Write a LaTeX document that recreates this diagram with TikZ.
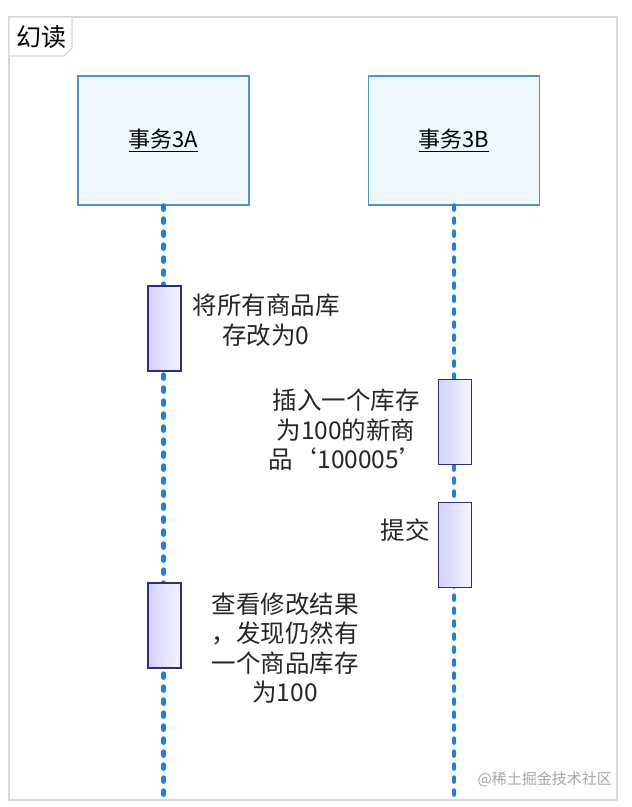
\documentclass[tikz,border=0pt]{standalone}
\usepackage{fontspec}
\setmainfont{Noto Sans CJK SC}
\usetikzlibrary{positioning}
\definecolor{lifeblue}{HTML}{1C7FE3}
\definecolor{headline}{HTML}{4A95D8}
\definecolor{headfill}{HTML}{EEF7FB}
\definecolor{actline}{HTML}{2E2E80}
\definecolor{framegray}{HTML}{D6D6DC}
\tikzset{
  headbox/.style={draw=headline, line width=1.2pt, fill=headfill, minimum width=171pt, minimum height=129pt, inner sep=0pt},
  actbox/.style={draw=actline, line width=1.2pt, left color=blue!18!white, right color=blue!4!white, minimum width=33pt, minimum height=85pt, inner sep=0pt},
  lifeline/.style={lifeblue, line width=4.5pt, line cap=round, dash pattern=on 4pt off 9pt},
  note/.style={align=center, font=\fontsize{24.5}{29.5}\selectfont, text=black!85, inner sep=0pt}
}
\begin{document}
\begin{tikzpicture}[x=1pt, y=-1pt, >=latex]
    \useasboundingbox[fill=white] (0,0) rectangle (632,807);
    % frame and its tab
    \draw[framegray, line width=1.5pt] (9,17) rectangle (617,800);
    \draw[framegray, line width=1.2pt, fill=white] (9,17) -- (72,17) -- (72,48) -- (64,56) -- (9,56) -- cycle;
    \node[anchor=west, font=\fontsize{25}{27}\selectfont, inner sep=0pt] (tab) at (16,37) {幻读};

    % heads
    \node[headbox] (boxA) at (163.5,140.5) {\fontsize{22}{24}\selectfont\underline{事务3A}};
    \node[headbox] (boxB) at (454,140.5) {\fontsize{22}{24}\selectfont\underline{事务3B}};

    % lifelines
    \coordinate (endA) at (163.5,800);
    \coordinate (endB) at (454,800);
    \draw[lifeline] (boxA.south) -- (endA);
    \draw[lifeline] (boxB.south) -- (endB);

    % activations
    \node[actbox] (actA1) at (164.5,328.5) {};
    \node[actbox] (actB1) at (455,422) {};
    \node[actbox] (actB2) at (455,545) {};
    \node[actbox] (actA2) at (164.5,625.5) {};

    % notes
    \node[note] (noteA1) at (266,320) {将所有商品库\\存改为0};
    \node[note] (noteB1) at (346,430) {插入一个库存\\为100的新商\\品‘100005’};
    \node[note] (noteB2) at (405,530) {提交};
    \node[note] (noteA2) at (285,648) {查看修改结果\\，发现仍然有\\一个商品库存\\为100};

    % watermark
    \node[anchor=east, font=\fontsize{15}{17}\selectfont, text=black!35, inner sep=0pt] (mark) at (612,779) {@稀土掘金技术社区};
\end{tikzpicture}
\end{document}
